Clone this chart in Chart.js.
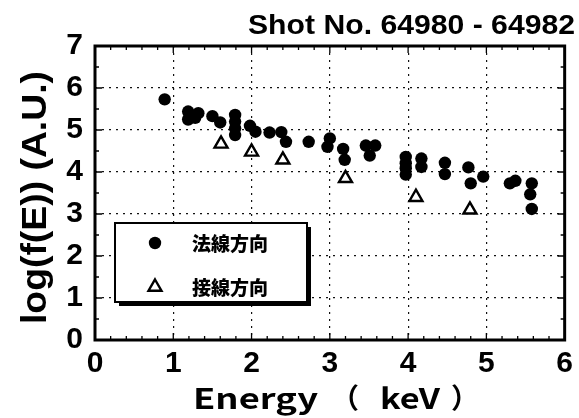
<!DOCTYPE html>
<html>
<head>
<meta charset="utf-8">
<script src="https://cdn.jsdelivr.net/npm/chart.js@4.4.1/dist/chart.umd.min.js"></script>
<style>
  html, body { margin: 0; padding: 0; background: #fff; }
  canvas { display: block; }
</style>
</head>
<body>
<canvas id="c" width="579" height="418"></canvas>
<script>
// Energy spectra, normal direction (filled circles)
const normalEnergy = [0.89, 1.19, 1.19, 1.32, 1.28, 1.50, 1.60, 1.79, 1.79, 1.79, 1.79, 1.98, 2.05, 2.23, 2.38, 2.44,
  2.73, 3.00, 2.97, 3.17, 3.19, 3.46, 3.58, 3.51, 3.97, 3.97, 3.97, 3.97, 4.17, 4.17, 4.47, 4.47,
  4.77, 4.80, 4.96, 5.30, 5.37, 5.58, 5.56, 5.58];
const normalLogF = [5.73, 5.44, 5.25, 5.40, 5.29, 5.33, 5.18, 5.36, 5.20, 5.04, 4.88, 5.10, 4.96, 4.94, 4.95, 4.72,
  4.72, 4.80, 4.60, 4.55, 4.29, 4.63, 4.63, 4.39, 4.36, 4.21, 4.09, 3.94, 4.32, 4.12, 4.22, 3.95,
  4.11, 3.73, 3.89, 3.73, 3.79, 3.73, 3.47, 3.12];

// Energy spectra, tangential direction (open triangles)
const tangentEnergy = [1.61, 2.00, 2.40, 3.20, 4.10, 4.79];
const tangentLogF = [4.67, 4.48, 4.29, 3.85, 3.40, 3.10];

const xTicks = [0, 1, 2, 3, 4, 5, 6];
const yTicks = [0, 1, 2, 3, 4, 5, 6, 7];
const seriesLabels = ['法線方向', '接線方向'];
const chartTitle = 'Shot No. 64980 - 64982';
const xTitleParts = ['Energy', '（', 'keV', '）'];
const yTitle = 'log(f(E)) (A.U.)';

const toPoints = (xs, ys) => xs.map((x, i) => ({ x: x, y: ys[i] }));

const normalStyle = { pointStyle: 'circle', radius: 6.2, borderWidth: 0, backgroundColor: '#000', borderColor: '#000' };
const tangentStyle = { pointStyle: 'triangle', radius: 7.5, borderWidth: 2.4, backgroundColor: 'rgba(0,0,0,0)', borderColor: '#000' };

// Draw text horizontally stretched to a given width
function stretchText(ctx, text, x, y, font, width) {
  ctx.save();
  ctx.font = font;
  ctx.textAlign = 'left';
  ctx.textBaseline = 'alphabetic';
  const w = ctx.measureText(text).width;
  ctx.translate(x, y);
  ctx.scale(width / w, 1);
  ctx.fillStyle = '#000';
  ctx.fillText(text, 0, 0);
  ctx.restore();
}

// Frame with inward major/minor tick marks on all four sides
const framePlugin = {
  id: 'frame',
  afterDatasetsDraw(chart) {
    const { ctx, chartArea: a, scales } = chart;
    const xs = scales.x, ys = scales.y;
    ctx.save();
    ctx.strokeStyle = '#000';
    ctx.lineWidth = 1.3;
    ctx.beginPath();
    for (let i = 0; i <= 30; i++) {
      const v = i / 5;
      const px = xs.getPixelForValue(v);
      const len = (i % 5 === 0) ? 7 : 4;
      ctx.moveTo(px, a.bottom); ctx.lineTo(px, a.bottom - len);
      ctx.moveTo(px, a.top); ctx.lineTo(px, a.top + len);
    }
    for (let i = 0; i <= 14; i++) {
      const v = i / 2;
      const py = ys.getPixelForValue(v);
      const len = (i % 2 === 0) ? 7 : 4;
      ctx.moveTo(a.left, py); ctx.lineTo(a.left + len, py);
      ctx.moveTo(a.right, py); ctx.lineTo(a.right - len, py);
    }
    ctx.stroke();
    ctx.lineWidth = 3;
    ctx.strokeRect(a.left, a.top, a.right - a.left, a.bottom - a.top);
    ctx.restore();
  }
};

// Legend box with drop shadow inside the plot
const legendPlugin = {
  id: 'boxLegend',
  afterDatasetsDraw(chart) {
    const ctx = chart.ctx;
    const bx = 115, by = 223, bw = 192, bh = 79;
    ctx.save();
    ctx.fillStyle = '#000';
    ctx.fillRect(bx + 4, by + 4, bw, bh);
    ctx.fillStyle = '#fff';
    ctx.fillRect(bx, by, bw, bh);
    ctx.strokeStyle = '#000';
    ctx.lineWidth = 2;
    ctx.strokeRect(bx, by, bw, bh);
    const rows = [
      { style: normalStyle, label: seriesLabels[0], y: 243 },
      { style: tangentStyle, label: seriesLabels[1], y: 287 }
    ];
    ctx.font = '900 19px "Noto Sans CJK JP"';
    ctx.textBaseline = 'middle';
    ctx.textAlign = 'left';
    rows.forEach(r => {
      ctx.fillStyle = r.style.backgroundColor;
      ctx.strokeStyle = r.style.borderColor;
      ctx.lineWidth = r.style.borderWidth;
      Chart.helpers.drawPoint(ctx, { pointStyle: r.style.pointStyle, radius: r.style.radius, borderWidth: r.style.borderWidth, rotation: 0 }, 155, r.y);
      ctx.fillStyle = '#000';
      ctx.fillText(r.label, 192, r.y + 1);
    });
    ctx.restore();
  }
};

// Title and axis titles
const titlePlugin = {
  id: 'titles',
  afterDraw(chart) {
    const ctx = chart.ctx;
    stretchText(ctx, chartTitle, 248, 34, 'bold 27px "Liberation Sans"', 327);

    const xf = 'bold 28px "Noto Sans CJK JP"';
    stretchText(ctx, xTitleParts[0], 193, 409, xf, 125);
    ctx.save();
    ctx.font = xf;
    ctx.fillStyle = '#000';
    ctx.textAlign = 'center';
    ctx.textBaseline = 'alphabetic';
    ctx.fillText(xTitleParts[1], 345, 409);
    ctx.fillText(xTitleParts[3], 465, 409);
    ctx.restore();
    stretchText(ctx, xTitleParts[2], 380, 409, xf, 60);

    ctx.save();
    ctx.translate(46, 198);
    ctx.rotate(-Math.PI / 2);
    stretchText(ctx, yTitle, -126, 0, 'bold 35px "Liberation Sans"', 253);
    ctx.restore();
  }
};

const tickFont = { family: 'Liberation Sans', weight: 'bold', size: 30 };

new Chart(document.getElementById('c'), {
  type: 'scatter',
  data: {
    datasets: [
      { label: seriesLabels[0], data: toPoints(normalEnergy, normalLogF),
        pointStyle: normalStyle.pointStyle, pointRadius: normalStyle.radius, pointBorderWidth: normalStyle.borderWidth,
        pointBackgroundColor: normalStyle.backgroundColor, pointBorderColor: normalStyle.borderColor },
      { label: seriesLabels[1], data: toPoints(tangentEnergy, tangentLogF),
        pointStyle: tangentStyle.pointStyle, pointRadius: tangentStyle.radius, pointBorderWidth: tangentStyle.borderWidth,
        pointBackgroundColor: tangentStyle.backgroundColor, pointBorderColor: tangentStyle.borderColor }
    ]
  },
  options: {
    responsive: false,
    animation: false,
    devicePixelRatio: 1,
    layout: { padding: { top: 46, right: 7, left: 0, bottom: 0 } },
    plugins: { legend: { display: false }, tooltip: { enabled: false } },
    scales: {
      x: {
        type: 'linear', min: 0, max: 6,
        afterBuildTicks: s => { s.ticks = xTicks.map(v => ({ value: v })); },
        afterFit: s => { s.height = 78; },
        grid: { color: '#111', lineWidth: 1.2, drawTicks: false },
        border: { display: false, dash: [2, 5] },
        ticks: { font: tickFont, color: '#000', padding: 6, maxRotation: 0, callback: v => String(v) }
      },
      y: {
        type: 'linear', min: 0, max: 7,
        afterBuildTicks: s => { s.ticks = yTicks.map(v => ({ value: v })); },
        afterFit: s => { s.width = 95; },
        grid: { color: '#111', lineWidth: 1.2, drawTicks: false },
        border: { display: false, dash: [2, 5] },
        ticks: { font: tickFont, color: '#000', padding: 12, callback: v => String(v) }
      }
    }
  },
  plugins: [framePlugin, legendPlugin, titlePlugin]
});
</script>
</body>
</html>
